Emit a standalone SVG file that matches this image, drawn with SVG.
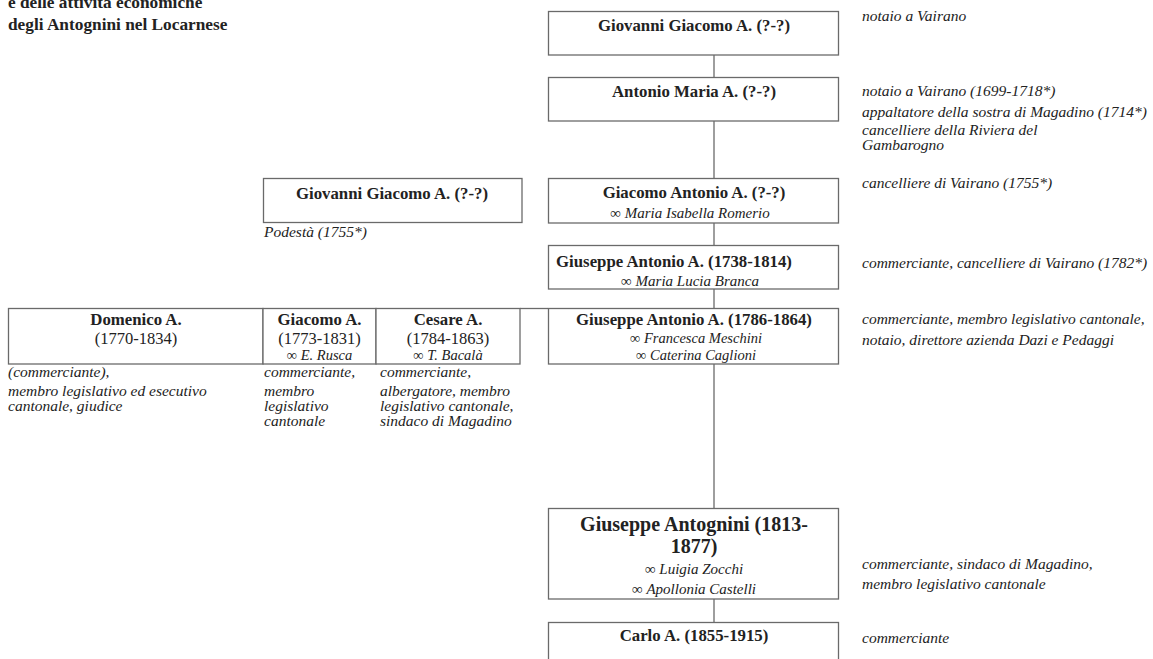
<svg xmlns="http://www.w3.org/2000/svg" width="1153" height="659" viewBox="0 0 1153 659">
<style>
.bx{fill:#fff;stroke:#6a6a6a;stroke-width:1.3}
.ln{stroke:#6a6a6a;stroke-width:1.3;fill:none}
.t{font-family:"Liberation Serif","Times New Roman",serif;fill:#222}
.b{font-weight:bold}
.n{font-style:italic;font-size:15.5px}
.c{text-anchor:middle}
.i{font-style:italic}
</style>
<rect width="1153" height="659" fill="#fff"/>
<g id="title">
<text class="t b" x="8" y="8" font-size="17.3">e delle attività economiche</text>
<text class="t b" x="8" y="30" font-size="17.3">degli Antognini nel Locarnese</text>
</g>
<g id="connectors">
<line class="ln" x1="714" y1="55" x2="714" y2="77"/>
<line class="ln" x1="714" y1="121" x2="714" y2="178"/>
<line class="ln" x1="714" y1="223" x2="714" y2="245"/>
<line class="ln" x1="714" y1="289" x2="714" y2="308"/>
<line class="ln" x1="520" y1="308.5" x2="548" y2="308.5"/>
<line class="ln" x1="714" y1="364" x2="714" y2="508"/>
<line class="ln" x1="714" y1="599" x2="714" y2="622"/>
</g>
<g id="n1">
<rect class="bx" x="548.5" y="11.5" width="290" height="43.5"/>
<text class="t b c" x="694" y="31" font-size="16.8">Giovanni Giacomo A. (?-?)</text>
<text class="t n" x="862" y="21">notaio a Vairano</text>
</g>
<g id="n2">
<rect class="bx" x="548.5" y="77.5" width="290" height="43.5"/>
<text class="t b c" x="694" y="97" font-size="16.8">Antonio Maria A. (?-?)</text>
<text class="t n" x="862" y="96">notaio a Vairano (1699-1718*)</text>
<text class="t n" x="862" y="117">appaltatore della sostra di Magadino (1714*)</text>
<text class="t n" x="862" y="134.5">cancelliere della Riviera del</text>
<text class="t n" x="862" y="150">Gambarogno</text>
</g>
<g id="n3">
<rect class="bx" x="263.5" y="178.5" width="258.5" height="44"/>
<text class="t b c" x="392" y="199" font-size="16.8">Giovanni Giacomo A. (?-?)</text>
<text class="t n" x="264" y="237">Podestà (1755*)</text>
</g>
<g id="n4">
<rect class="bx" x="548.5" y="178.5" width="290" height="44.5"/>
<text class="t b c" x="694" y="198" font-size="16.8">Giacomo Antonio A. (?-?)</text>
<text class="t c" x="690" y="218" font-size="15"><tspan>∞ </tspan><tspan class="i">Maria Isabella Romerio</tspan></text>
<text class="t n" x="862" y="188">cancelliere di Vairano (1755*)</text>
</g>
<g id="n5">
<rect class="bx" x="548.5" y="245.5" width="290" height="43.5"/>
<text class="t b c" x="674" y="267" font-size="16.8">Giuseppe Antonio A. (1738-1814)</text>
<text class="t c" x="690" y="286" font-size="15"><tspan>∞ </tspan><tspan class="i">Maria Lucia Branca</tspan></text>
<text class="t n" x="862" y="268">commerciante, cancelliere di Vairano (1782*)</text>
</g>
<g id="n6">
<rect class="bx" x="8.5" y="308.5" width="254.5" height="55.5"/>
<text class="t b c" x="136" y="325" font-size="16.8">Domenico A.</text>
<text class="t c" x="136" y="344" font-size="16.5">(1770-1834)</text>
<text class="t n" x="8" y="377">(commerciante),</text>
<text class="t n" x="8" y="396">membro legislativo ed esecutivo</text>
<text class="t n" x="8" y="411">cantonale, giudice</text>
</g>
<g id="n7">
<rect class="bx" x="263" y="308.5" width="113" height="55.5"/>
<text class="t b c" x="319.5" y="325" font-size="16.8">Giacomo A.</text>
<text class="t c" x="319.5" y="344" font-size="16.5">(1773-1831)</text>
<text class="t c" x="319.5" y="360" font-size="14.5"><tspan>∞ </tspan><tspan class="i">E. Rusca</tspan></text>
<text class="t n" x="264" y="377">commerciante,</text>
<text class="t n" x="264" y="396">membro</text>
<text class="t n" x="264" y="411">legislativo</text>
<text class="t n" x="264" y="426">cantonale</text>
</g>
<g id="n8">
<rect class="bx" x="376" y="308.5" width="144" height="55.5"/>
<text class="t b c" x="448" y="325" font-size="16.8">Cesare A.</text>
<text class="t c" x="448" y="344" font-size="16.5">(1784-1863)</text>
<text class="t c" x="448" y="360" font-size="14.5"><tspan>∞ </tspan><tspan class="i">T. Bacalà</tspan></text>
<text class="t n" x="380" y="377">commerciante,</text>
<text class="t n" x="380" y="396">albergatore, membro</text>
<text class="t n" x="380" y="411">legislativo cantonale,</text>
<text class="t n" x="380" y="426">sindaco di Magadino</text>
</g>
<g id="n9">
<rect class="bx" x="548.5" y="308.5" width="290" height="55.5"/>
<text class="t b c" x="694" y="325" font-size="16.8">Giuseppe Antonio A. (1786-1864)</text>
<text class="t c" x="696" y="343" font-size="14.5"><tspan>∞ </tspan><tspan class="i">Francesca Meschini</tspan></text>
<text class="t c" x="696" y="360" font-size="14.5"><tspan>∞ </tspan><tspan class="i">Caterina Caglioni</tspan></text>
<text class="t n" x="862" y="324">commerciante, membro legislativo cantonale,</text>
<text class="t n" x="862" y="345">notaio, direttore azienda Dazi e Pedaggi</text>
</g>
<g id="n10">
<rect class="bx" x="548.5" y="508.5" width="290" height="90.5"/>
<text class="t b c" x="694" y="531" font-size="20">Giuseppe Antognini (1813-</text>
<text class="t b c" x="694" y="553" font-size="20">1877)</text>
<text class="t c" x="694" y="574" font-size="15"><tspan>∞ </tspan><tspan class="i">Luigia Zocchi</tspan></text>
<text class="t c" x="694" y="594" font-size="15"><tspan>∞ </tspan><tspan class="i">Apollonia Castelli</tspan></text>
<text class="t n" x="862" y="569">commerciante, sindaco di Magadino,</text>
<text class="t n" x="862" y="589">membro legislativo cantonale</text>
</g>
<g id="n11">
<rect class="bx" x="548.5" y="622.5" width="290" height="50"/>
<text class="t b c" x="694" y="641" font-size="16.8">Carlo A. (1855-1915)</text>
<text class="t n" x="862" y="643">commerciante</text>
</g>
</svg>
